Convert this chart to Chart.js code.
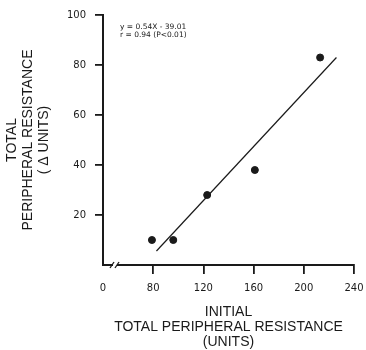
<!DOCTYPE html>
<html>
<head>
<meta charset="utf-8">
<script src="https://cdn.jsdelivr.net/npm/chart.js@4/dist/chart.umd.min.js"></script>
<style>
  html, body { margin: 0; padding: 0; background: #fff; }
</style>
</head>
<body>
<canvas id="chart" width="366" height="350"></canvas>
<script>
        // Data
        const initialTPR = [79, 96, 123, 161, 213];
        const deltaTPR = [10, 10, 28, 38, 83];
        const fitLineX = [82.6, 226];
        const fitLineY = [5.6, 83.0];
        const xTickValues = [40, 80, 120, 160, 200, 240]; // 40 is shown as "0" (broken axis)
        const yTickValues = [0, 20, 40, 60, 80, 100];
        const equationLines = ['y = 0.54X - 39.01', 'r = 0.94 (P<0.01)'];
        const xTitle = ['INITIAL', 'TOTAL PERIPHERAL RESISTANCE', '(UNITS)'];
        const yTitle = ['TOTAL', 'PERIPHERAL RESISTANCE', '( \u0394 UNITS)'];

        const ink = '#1a1a1a';

        const axisBreak = {
            id: 'axisBreak',
            afterDraw(chart) {
                const { ctx, chartArea: a } = chart;
                const y = a.bottom;
                ctx.save();
                ctx.fillStyle = '#fff';
                ctx.fillRect(a.left + 10, y - 2, 4, 4);
                ctx.strokeStyle = ink;
                ctx.lineWidth = 1.3;
                [a.left + 9, a.left + 14].forEach(x => {
                    ctx.beginPath();
                    ctx.moveTo(x - 2, y + 3);
                    ctx.lineTo(x + 2, y - 3);
                    ctx.stroke();
                });
                // equation text
                ctx.fillStyle = ink;
                ctx.font = '7.5px "DejaVu Sans", sans-serif';
                ctx.textBaseline = 'middle';
                equationLines.forEach((t, i) => ctx.fillText(t, a.left + 17, a.top + 12 + i * 8));
                ctx.restore();
            }
        };

        new Chart(document.getElementById('chart').getContext('2d'), {
            type: 'scatter',
            data: {
                datasets: [
                    {
                        data: initialTPR.map((x, i) => ({ x: x, y: deltaTPR[i] })),
                        backgroundColor: ink, borderColor: ink,
                        pointRadius: 3.5, pointHoverRadius: 3.5
                    },
                    {
                        type: 'line',
                        data: fitLineX.map((x, i) => ({ x: x, y: fitLineY[i] })),
                        borderColor: ink, borderWidth: 1.2,
                        pointRadius: 0, fill: false
                    }
                ]
            },
            options: {
                responsive: false,
                animation: false,
                layout: { padding: { left: 0, right: 12, top: 13, bottom: 0 } },
                plugins: { legend: { display: false }, tooltip: { enabled: false } },
                scales: {
                    x: {
                        type: 'linear', min: 40, max: 240,
                        afterBuildTicks: s => { s.ticks = xTickValues.map(v => ({ value: v })); },
                        afterFit: s => { s.height = 85; s.paddingLeft = 0; s.paddingRight = 0; },
                        grid: {
                            drawOnChartArea: false, drawTicks: true, tickLength: 9, lineWidth: 1.8,
                            color: c => (c.tick && c.tick.value === 40) ? 'rgba(0,0,0,0)' : ink
                        },
                        border: { display: true, color: ink, width: 2 },
                        ticks: {
                            padding: 8, color: ink, maxRotation: 0,
                            font: { family: '"DejaVu Sans", sans-serif', size: 10 },
                            callback: v => v === 40 ? '0' : v
                        },
                        title: {
                            display: true, text: xTitle, color: ink,
                            font: { family: '"Liberation Sans", Arial, sans-serif', size: 14, lineHeight: 1.05 },
                            padding: { top: 0, bottom: 1 }
                        }
                    },
                    y: {
                        type: 'linear', min: 0, max: 100,
                        afterBuildTicks: s => { s.ticks = yTickValues.map(v => ({ value: v })); },
                        afterFit: s => { s.width = 103; },
                        grid: {
                            drawOnChartArea: false, drawTicks: true, tickLength: 8, lineWidth: 1.8,
                            color: c => (c.tick && c.tick.value === 0) ? 'rgba(0,0,0,0)' : ink
                        },
                        border: { display: true, color: ink, width: 2 },
                        ticks: {
                            padding: 9, color: ink,
                            font: { family: '"DejaVu Sans", sans-serif', size: 10 },
                            callback: v => v === 0 ? '' : v
                        },
                        title: {
                            display: true, text: yTitle, color: ink,
                            font: { family: '"Liberation Sans", Arial, sans-serif', size: 14, lineHeight: 1.15 },
                            padding: { top: 4, bottom: 0 }
                        }
                    }
                }
            },
            plugins: [axisBreak]
        });
</script>
</body>
</html>
